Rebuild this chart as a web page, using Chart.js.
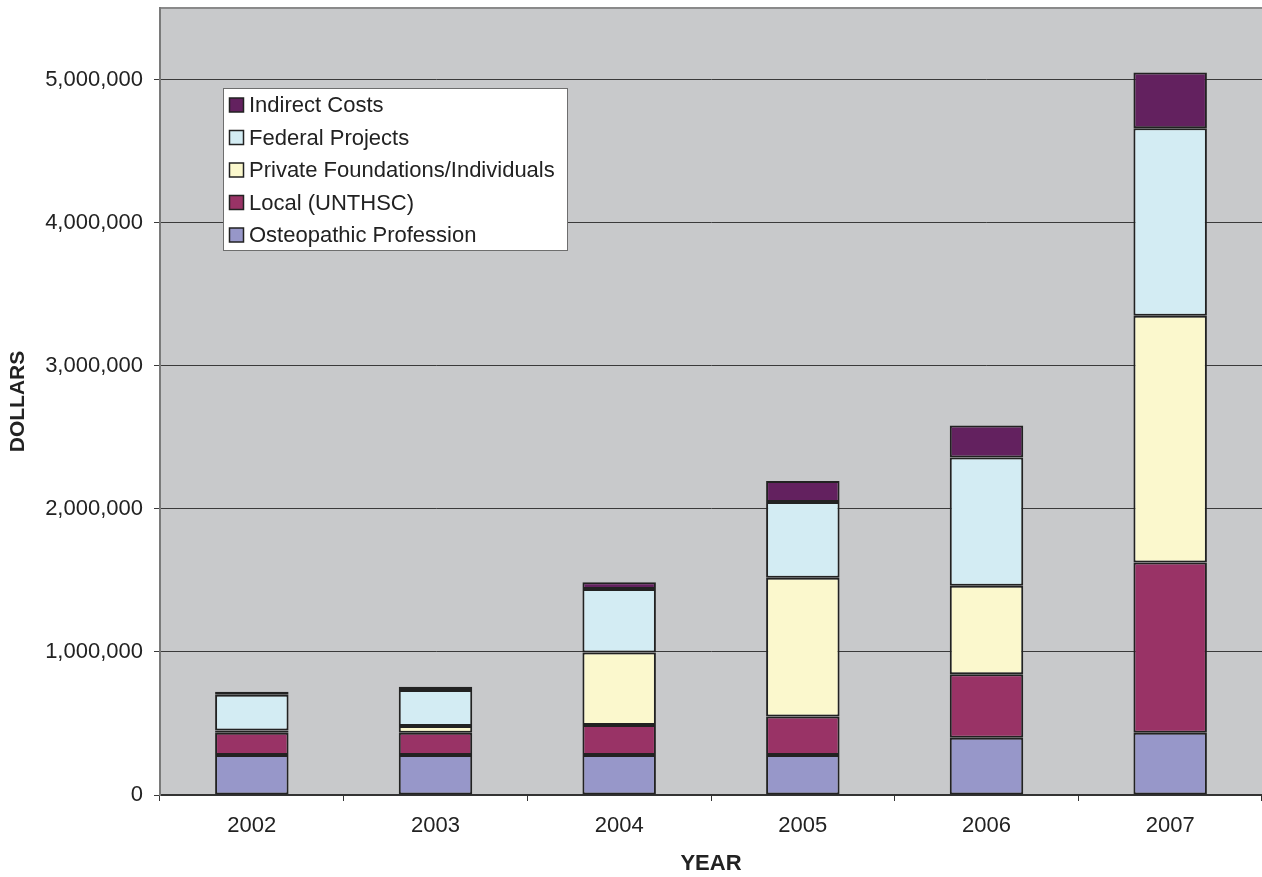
<!DOCTYPE html>
<html>
<head>
<meta charset="utf-8">
<script src="https://cdn.jsdelivr.net/npm/chart.js@4"></script>
<style>
  html, body { margin: 0; padding: 0; background: #ffffff; }
  #wrap { width: 1262px; height: 877px; }
</style>
</head>
<body>
<div id="wrap"><canvas id="c" width="1262" height="877"></canvas></div>
<script>
const years = ['2002', '2003', '2004', '2005', '2006', '2007'];
const osteopathic = [280000, 280000, 280000, 280000, 400000, 435000];
const local = [155000, 155000, 210000, 268000, 444000, 1190000];
const privateFound = [15000, 48000, 505000, 970000, 618000, 1725000];
const federal = [250000, 250000, 445000, 530000, 897000, 1310000];
const indirect = [22000, 23000, 47000, 146000, 224000, 390000];
const yTickValues = [0, 1000000, 2000000, 3000000, 4000000, 5000000];

const FONT = '"Liberation Sans", Arial, Helvetica, sans-serif';
const TEXT = '#222222';

const plotBg = {
  id: 'plotBg',
  beforeDraw(chart) {
    const {ctx, chartArea: a} = chart;
    ctx.save();
    ctx.fillStyle = '#c8c9cb';
    ctx.fillRect(a.left, a.top, a.right - a.left, a.bottom - a.top);
    ctx.strokeStyle = '#8a8a8a';
    ctx.lineWidth = 2;
    ctx.beginPath();
    ctx.moveTo(a.left, a.top);
    ctx.lineTo(a.right, a.top);
    ctx.stroke();
    ctx.restore();
  }
};

const boxLegend = {
  id: 'boxLegend',
  afterDraw(chart) {
    const {ctx} = chart;
    const x = 223, y = 88, w = 344, h = 162;
    ctx.save();
    ctx.fillStyle = '#ffffff';
    ctx.fillRect(x, y, w, h);
    ctx.strokeStyle = '#6e6e6e';
    ctx.lineWidth = 1;
    ctx.strokeRect(x + 0.5, y + 0.5, w, h);
    const ds = chart.data.datasets.slice().reverse();
    ctx.font = '22px ' + FONT;
    ctx.textBaseline = 'middle';
    ctx.textAlign = 'left';
    ds.forEach((d, i) => {
      const cy = y + 17 + i * 32.5;
      ctx.fillStyle = d.backgroundColor;
      ctx.fillRect(x + 6.5, cy - 7, 14, 14);
      ctx.strokeStyle = '#222';
      ctx.lineWidth = 1.5;
      ctx.strokeRect(x + 6.5, cy - 7, 14, 14);
      ctx.fillStyle = TEXT;
      ctx.fillText(d.label, x + 26, cy + 1);
    });
    ctx.restore();
  }
};

const mk = (label, data, color) => ({
  label, data, backgroundColor: color,
  borderColor: '#222222', borderWidth: 2, borderSkipped: false,
  barPercentage: 0.4, categoryPercentage: 1.0
});

new Chart(document.getElementById('c'), {
  type: 'bar',
  data: {
    labels: years,
    datasets: [
      mk('Osteopathic Profession', osteopathic, '#9797c9'),
      mk('Local (UNTHSC)', local, '#993366'),
      mk('Private Foundations/Individuals', privateFound, '#fbf8cd'),
      mk('Federal Projects', federal, '#d3ecf3'),
      mk('Indirect Costs', indirect, '#63215f')
    ]
  },
  options: {
    responsive: false,
    animation: false,
    layout: { autoPadding: false, padding: { top: 8, right: 0, left: 0, bottom: 0 } },
    plugins: { legend: { display: false }, tooltip: { enabled: false } },
    scales: {
      x: {
        stacked: true,
        offset: true,
        grid: { offset: true, drawOnChartArea: false, drawTicks: true, tickLength: 6, color: '#333', lineWidth: 1 },
        border: { display: true, color: '#333', width: 2 },
        ticks: { color: TEXT, font: { family: FONT, size: 22 }, padding: 12, maxRotation: 0 },
        title: { display: true, text: 'YEAR', color: TEXT, font: { family: FONT, size: 22, weight: 'bold' }, padding: { top: 0, bottom: 0 } },
        afterFit(s) { s.height = 82; s.paddingLeft = 0; s.paddingRight = 0; }
      },
      y: {
        stacked: true,
        min: 0,
        max: 5500000,
        afterBuildTicks(s) { s.ticks = yTickValues.map(v => ({ value: v })); },
        grid: { color: '#3a3a3a', lineWidth: 1, tickLength: 6, drawTicks: true },
        border: { display: true, color: '#7a7a7a', width: 2 },
        ticks: {
          color: TEXT, font: { family: FONT, size: 22 }, padding: 11,
          callback: v => Number(v).toLocaleString('en-US')
        },
        title: { display: true, text: 'DOLLARS', color: TEXT, font: { family: FONT, size: 21, weight: 'bold' }, padding: { top: 6, bottom: 0 } },
        afterFit(s) { s.width = 160; s.paddingTop = 0; s.paddingBottom = 0; }
      }
    }
  },
  plugins: [plotBg, boxLegend]
});
</script>
</body>
</html>
